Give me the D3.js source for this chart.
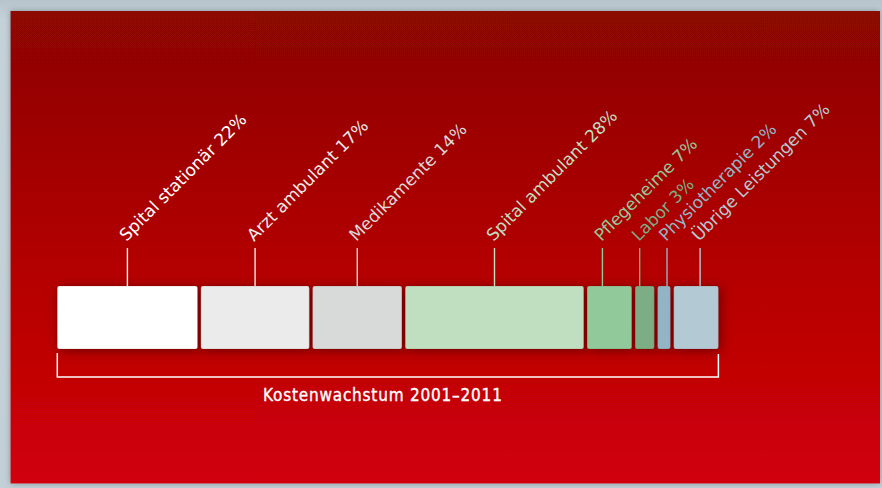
<!DOCTYPE html>
<html>
<head>
<meta charset="utf-8">
<script src="https://cdn.jsdelivr.net/npm/d3@7"></script>
<style>
  html, body { margin: 0; padding: 0; background: #c4d0d7; }
  svg { display: block; }
</style>
</head>
<body>
<script>
// Kostenwachstum 2001-2011, Anteile je Kategorie
var categories = ["Spital stationär", "Arzt ambulant", "Medikamente", "Spital ambulant",
                  "Pflegeheime", "Labor", "Physiotherapie", "Übrige Leistungen"];
var shares = [22, 17, 14, 28, 7, 3, 2, 7];
var barColors = ["#ffffff", "#ebebeb", "#d8d9d9", "#c0dfc0",
                 "#92c99a", "#7bad84", "#92b4c4", "#b3cad4"];
var caption = "Kostenwachstum 2001–2011";

var svgWidth = 882, svgHeight = 488;
var svg = d3.select("body").append("svg")
    .attr("width", svgWidth)
    .attr("height", svgHeight);

var defs = svg.append("defs");

var grad = defs.append("linearGradient")
    .attr("id", "bg")
    .attr("x1", 0).attr("y1", 0).attr("x2", 0).attr("y2", 1);
grad.append("stop").attr("offset", "0%").attr("stop-color", "#8b0700");
grad.append("stop").attr("offset", "55%").attr("stop-color", "#b40204");
grad.append("stop").attr("offset", "100%").attr("stop-color", "#d10008");

var page = defs.append("linearGradient")
    .attr("id", "page")
    .attr("x1", 0).attr("y1", 0).attr("x2", 0).attr("y2", 1);
page.append("stop").attr("offset", "0%").attr("stop-color", "#b7c4cb");
page.append("stop").attr("offset", "4%").attr("stop-color", "#c6d2d9");
page.append("stop").attr("offset", "100%").attr("stop-color", "#c4d0d7");

var panelShadow = defs.append("filter").attr("id", "panelShadow")
    .attr("x", "-5%").attr("y", "-5%").attr("width", "110%").attr("height", "110%");
panelShadow.append("feDropShadow")
    .attr("dx", 0).attr("dy", 0).attr("stdDeviation", 3)
    .attr("flood-color", "#5a6a72").attr("flood-opacity", 0.6);

var barShadow = defs.append("filter").attr("id", "barShadow")
    .attr("x", "-20%").attr("y", "-40%").attr("width", "140%").attr("height", "180%");
barShadow.append("feDropShadow")
    .attr("dx", 2).attr("dy", 2).attr("stdDeviation", 6)
    .attr("flood-color", "#3a0000").attr("flood-opacity", 0.6);

svg.append("rect")
    .attr("width", svgWidth).attr("height", svgHeight)
    .attr("fill", "url(#page)");

svg.append("rect")
    .attr("x", 10.5).attr("y", 11)
    .attr("width", 869.5).attr("height", 472.5)
    .attr("fill", "url(#bg)")
    .attr("filter", "url(#panelShadow)");

// layout
var barTop = 286, barHeight = 63, gap = 3.4;
var lineTop = 248;
var x = d3.scaleLinear().domain([0, 100]).range([57.3, 694.6]);

var rows = categories.map(function(c, i) {
  var start = d3.sum(shares.slice(0, i));
  return { name: c, value: shares[i], start: start, color: barColors[i], i: i };
});

function barX(d) { return x(d.start) + d.i * gap; }
function barW(d) { return x(d.value) - x(0); }

// small bars get their label lines pushed apart a bit
var labelNudge = [0, 0, 0, 0, -7, -5, 3, 4];
function lineX(d) { return barX(d) + barW(d) / 2 + labelNudge[d.i]; }

var g = svg.append("g");

g.append("g")
    .attr("filter", "url(#barShadow)")
    .selectAll("rect")
    .data(rows)
    .enter()
    .append("rect")
    .attr("x", barX)
    .attr("y", barTop)
    .attr("width", barW)
    .attr("height", barHeight)
    .attr("rx", 2)
    .attr("fill", function(d) { return d.color; })
    .attr("stroke", "rgba(90,0,0,0.25)")
    .attr("stroke-width", 0.6);

g.selectAll(".leader")
    .data(rows)
    .enter()
    .append("line")
    .attr("class", "leader")
    .attr("x1", lineX).attr("x2", lineX)
    .attr("y1", lineTop).attr("y2", barTop)
    .attr("stroke", function(d) { return d.color; })
    .attr("stroke-width", 1.4);

g.selectAll(".label")
    .data(rows)
    .enter()
    .append("text")
    .attr("class", "label")
    .attr("transform", function(d) {
      return "translate(" + (lineX(d) - 1) + "," + (lineTop - 6) + ") rotate(-45)";
    })
    .attr("fill", function(d) { return d.color; })
    .style("font-family", "'DejaVu Sans', sans-serif")
    .style("font-size", "16.9px")
    .text(function(d) { return d.name + " " + d.value + "%"; });

// bracket below the bars
var x0 = barX(rows[0]);
var x1 = barX(rows[rows.length - 1]) + barW(rows[rows.length - 1]);
g.append("path")
    .attr("d", "M" + x0 + ",353 V377 H" + x1 + " V354")
    .attr("fill", "none")
    .attr("stroke", "#ffffff")
    .attr("stroke-width", 1.5);

g.append("text")
    .attr("x", (x0 + x1) / 2 - 5)
    .attr("y", 401)
    .attr("text-anchor", "middle")
    .attr("fill", "#ffffff")
    .attr("stroke", "#ffffff")
    .attr("stroke-width", 0.35)
    .style("font-family", "'DejaVu Sans Condensed', 'DejaVu Sans', sans-serif")
    .style("font-stretch", "condensed")
    .style("font-size", "17px")
    .style("letter-spacing", "0.8px")
    .text(caption);
</script>
</body>
</html>
